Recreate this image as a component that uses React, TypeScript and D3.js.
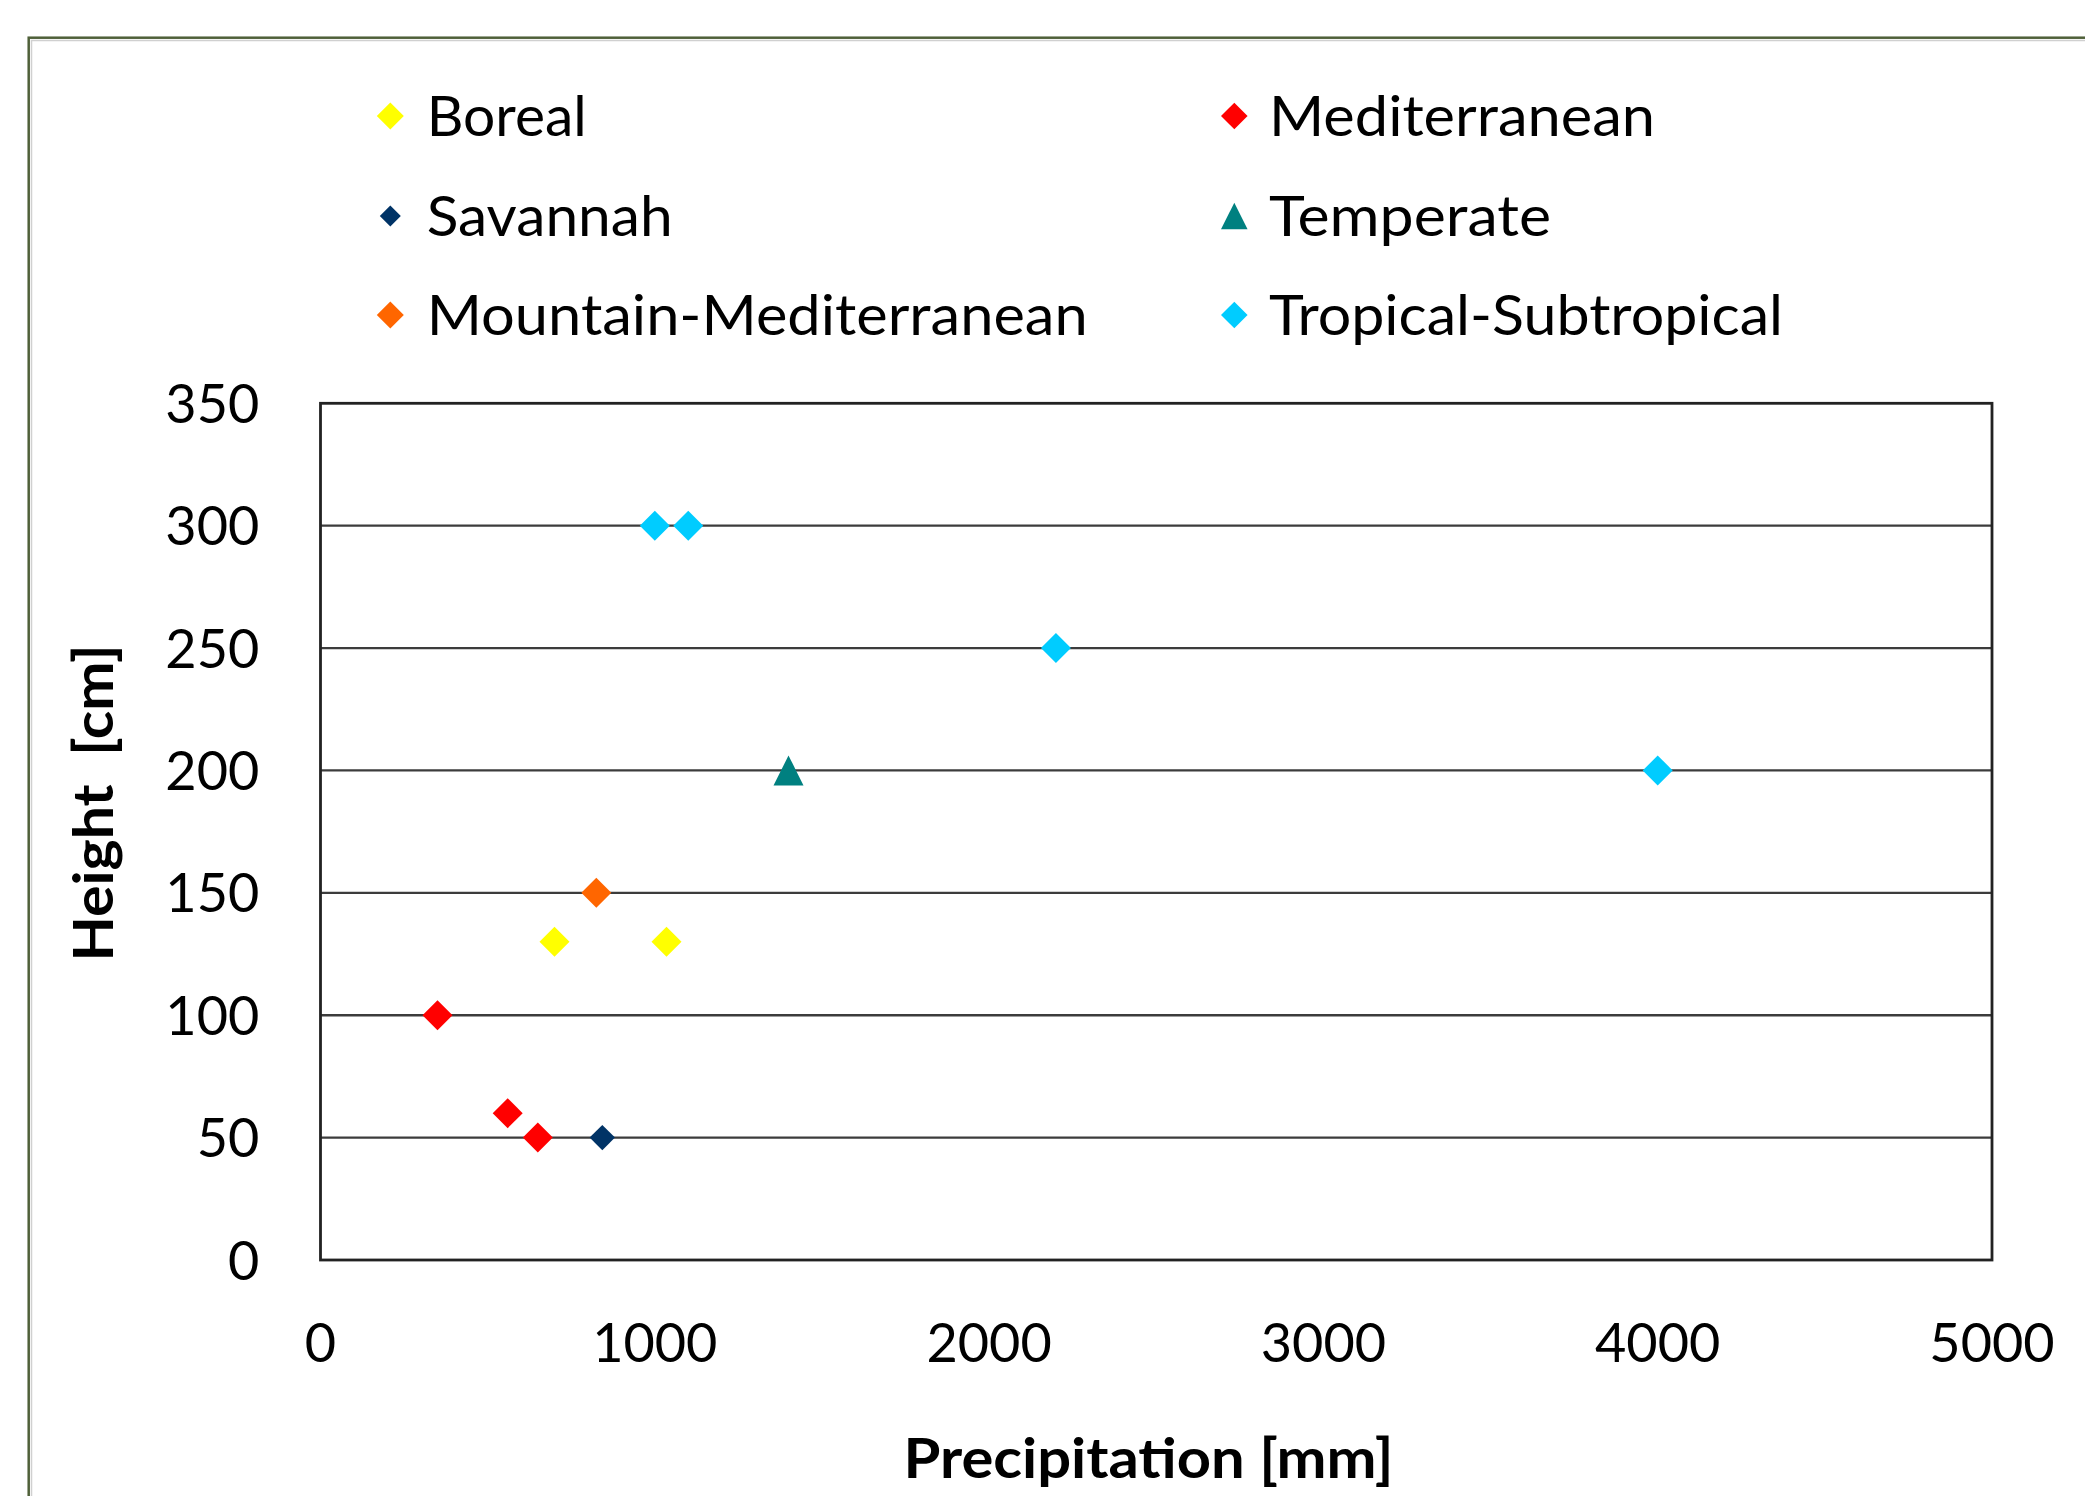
import React from "react";
import * as d3 from "d3";

// ---- data ----
const xTicks = [0, 1000, 2000, 3000, 4000, 5000];
const yTicks = [0, 50, 100, 150, 200, 250, 300, 350];

const borealX = [700, 1035];
const borealY = [130, 130];
const mediterraneanX = [350, 560, 650];
const mediterraneanY = [100, 60, 50];
const savannahX = [843];
const savannahY = [50];
const temperateX = [1400];
const temperateY = [200];
const mountainMedX = [825];
const mountainMedY = [150];
const tropicalX = [1000, 1100, 2200, 4000];
const tropicalY = [300, 300, 250, 200];

const xTitle = "Precipitation [mm]";
const yTitle = "Height  [cm]";

// ---- styling / layout ----
const W = 2085;
const H = 1496;
const FONT = "Lato, 'Open Sans', sans-serif";

const diamond = {
  draw(ctx: any, r: number) {
    ctx.moveTo(0, -r);
    ctx.lineTo(r, 0);
    ctx.lineTo(0, r);
    ctx.lineTo(-r, 0);
    ctx.closePath();
  },
};
const triangle = {
  draw(ctx: any, r: number) {
    ctx.moveTo(0, -r);
    ctx.lineTo(r, r);
    ctx.lineTo(-r, r);
    ctx.closePath();
  },
};

type Series = {
  name: string;
  xs: number[];
  ys: number[];
  color: string;
  shape: any;
  r: number;
  legendR: number;
  col: number;
  row: number;
  textLen: number;
};

const series: Series[] = [
  { name: "Boreal", xs: borealX, ys: borealY, color: "#FFFF00", shape: diamond, r: 15, legendR: 13.5, col: 0, row: 0, textLen: 160 },
  { name: "Mediterranean", xs: mediterraneanX, ys: mediterraneanY, color: "#FF0000", shape: diamond, r: 15, legendR: 13.3, col: 1, row: 0, textLen: 386 },
  { name: "Savannah", xs: savannahX, ys: savannahY, color: "#003366", shape: diamond, r: 12.7, legendR: 10.5, col: 0, row: 1, textLen: 246 },
  { name: "Temperate", xs: temperateX, ys: temperateY, color: "#008080", shape: triangle, r: 15, legendR: 13.3, col: 1, row: 1, textLen: 282 },
  { name: "Mountain-Mediterranean", xs: mountainMedX, ys: mountainMedY, color: "#FF6600", shape: diamond, r: 15, legendR: 13.5, col: 0, row: 2, textLen: 661 },
  { name: "Tropical-Subtropical", xs: tropicalX, ys: tropicalY, color: "#00CCFF", shape: diamond, r: 15, legendR: 13.3, col: 1, row: 2, textLen: 514 },
];

// draw order in the plot (Excel series order)
const drawOrder = ["Boreal", "Mediterranean", "Savannah", "Temperate", "Mountain-Mediterranean", "Tropical-Subtropical"];

const plot = { left: 320.5, right: 1992, top: 403.3, bottom: 1260 };
const legendMarkerX = [390.3, 1234.3];
const legendTextX = [426.7, 1269];
const legendRowY = [116, 216, 315];

export default function App() {
  const x = d3.scaleLinear().domain([0, 5000]).range([plot.left, plot.right]);
  const y = d3.scaleLinear().domain([0, 350]).range([plot.bottom, plot.top]);
  const sym = (shape: any, r: number) => d3.symbol(shape, r)() as string;

  return (
    <svg
      width={W}
      height={H}
      viewBox={`0 0 ${W} ${H}`}
      style={{ position: "absolute", left: 0, top: 0, background: "#fff" }}
    >
      <rect x={0} y={0} width={W} height={H} fill="#fff" />
      {/* outer chart border */}
      <rect x={28.7} y={37.7} width={W} height={H} fill="none" stroke="#4f6039" strokeWidth={2.5} />
      <rect x={31.5} y={40.5} width={W} height={H} fill="none" stroke="#d0d0d0" strokeWidth={1.5} />

      {/* gridlines */}
      {yTicks
        .filter((t) => t !== 0 && t !== 350)
        .map((t) => (
          <line key={"g" + t} x1={plot.left} x2={plot.right} y1={y(t)} y2={y(t)} stroke="#3c3c3c" strokeWidth={2.3} />
        ))}

      {/* plot border */}
      <rect
        x={plot.left}
        y={plot.top}
        width={plot.right - plot.left}
        height={plot.bottom - plot.top}
        fill="none"
        stroke="#222"
        strokeWidth={2.8}
      />

      {/* y tick labels */}
      {yTicks.map((t) => (
        <text key={"yt" + t} x={259.3} y={y(t) + 19.5} textAnchor="end" fontFamily={FONT} fontSize={54} fill="#000">
          {t}
        </text>
      ))}
      {/* x tick labels */}
      {xTicks.map((t) => (
        <text key={"xt" + t} x={x(t)} y={1361.7} textAnchor="middle" fontFamily={FONT} fontSize={54} fill="#000">
          {t}
        </text>
      ))}

      {/* axis titles */}
      <text
        x={1148.5}
        y={1477.7}
        textAnchor="middle"
        fontFamily={FONT}
        fontWeight={700}
        fontSize={56}
        textLength={490}
        lengthAdjust="spacingAndGlyphs"
        fill="#000"
      >
        {xTitle}
      </text>
      <text
        transform="translate(113.3,803) rotate(-90)"
        textAnchor="middle"
        fontFamily={FONT}
        fontWeight={700}
        fontSize={56}
        textLength={317}
        lengthAdjust="spacingAndGlyphs"
        fill="#000"
        style={{ whiteSpace: "pre" }}
      >
        {yTitle}
      </text>

      {/* points */}
      {drawOrder.map((n) => {
        const s = series.find((d) => d.name === n)!;
        return (
          <g key={"s" + n}>
            {s.xs.map((xv, i) => (
              <path
                key={i}
                d={sym(s.shape, s.r)}
                transform={`translate(${x(xv)},${y(s.ys[i])})`}
                fill={s.color}
              />
            ))}
          </g>
        );
      })}

      {/* legend */}
      {series.map((s) => (
        <g key={"l" + s.name}>
          <path
            d={sym(s.shape, s.legendR)}
            transform={`translate(${legendMarkerX[s.col]},${legendRowY[s.row]})`}
            fill={s.color}
          />
          <text
            x={legendTextX[s.col]}
            y={legendRowY[s.row] + 20}
            fontFamily={FONT}
            fontSize={56}
            textLength={s.textLen}
            lengthAdjust="spacingAndGlyphs"
            fill="#000"
          >
            {s.name}
          </text>
        </g>
      ))}
    </svg>
  );
}
